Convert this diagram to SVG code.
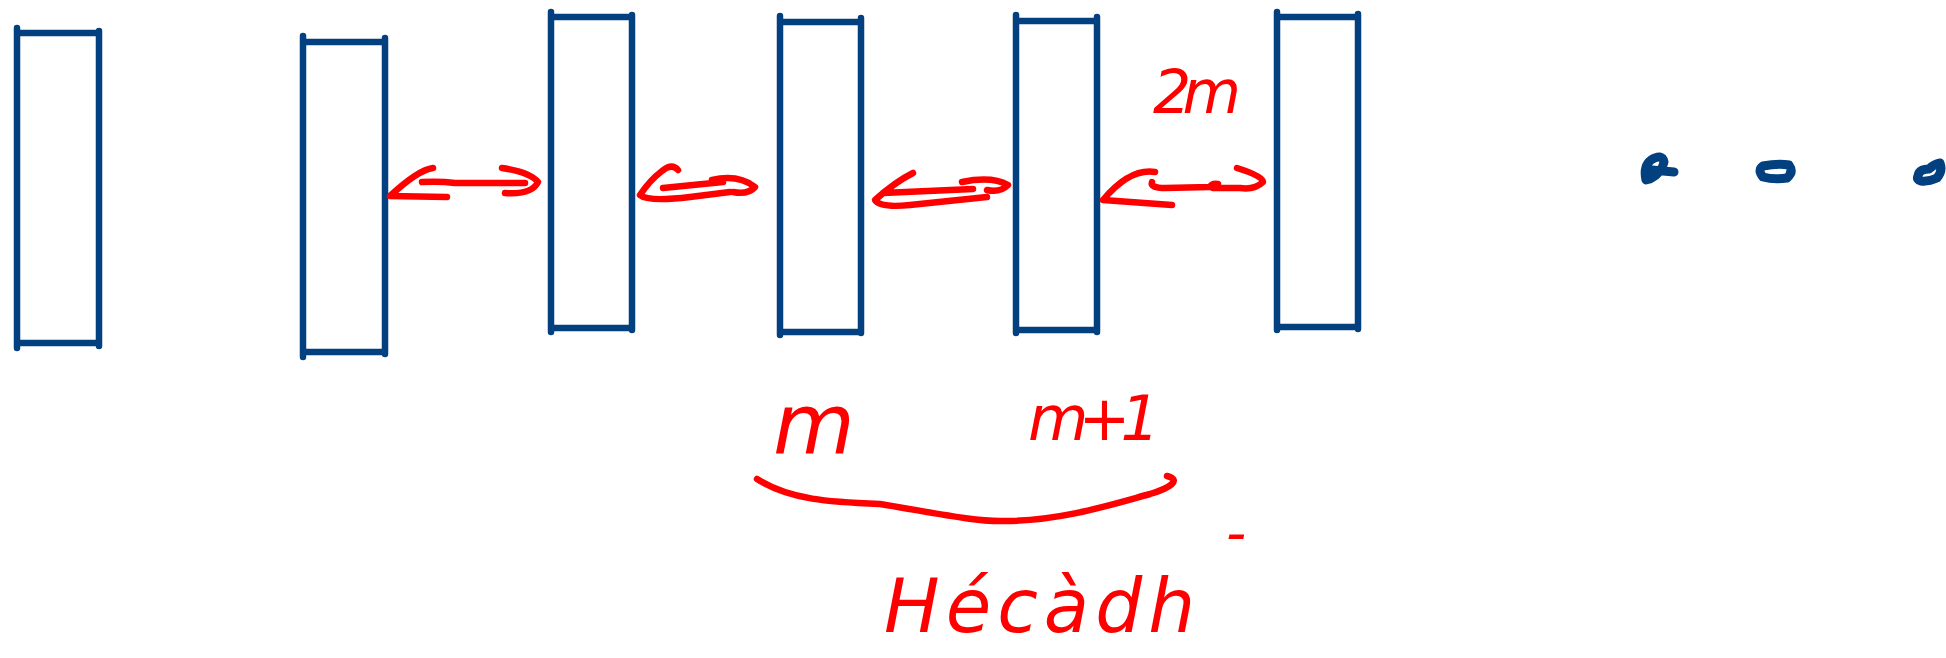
<svg xmlns="http://www.w3.org/2000/svg" width="1946" height="658" viewBox="0 0 1946 658">
<style>
.box{fill:none;stroke:#034080;stroke-width:6.5;stroke-linecap:round;stroke-linejoin:round}
.arr{fill:none;stroke:#ff0000;stroke-width:6.5;stroke-linecap:round;stroke-linejoin:round}
.dot{fill:none;stroke:#034080;stroke-width:9;stroke-linecap:round;stroke-linejoin:round}
.lbl{fill:#ff0000;font-family:"DejaVu Sans","Liberation Sans",sans-serif;font-style:oblique}
</style>
<rect width="1946" height="658" fill="#ffffff"/>
<g id="block1"><path class="box" d="M17,28 L17,348 M17,33 L99,33 M99,31 L99,346 M17,343 L99,343"/></g>
<g id="block2"><path class="box" d="M303,36 L303,357 M303,42 L385,42 M385,38 L385,354 M303,352 L385,352"/></g>
<g id="block3"><path class="box" d="M551,12 L551,332 M551,17 L632,17 M632,15 L632,330 M551,328 L632,328"/></g>
<g id="block4"><path class="box" d="M780,16 L780,335 M780,22 L861,22 M861,18 L861,333 M780,332 L861,332"/></g>
<g id="block5"><path class="box" d="M1016,15 L1016,333 M1016,21 L1097,21 M1097,17 L1097,332 M1016,330 L1097,330"/></g>
<g id="block6"><path class="box" d="M1277,12 L1277,330 M1277,17 L1358,17 M1358,14 L1358,329 M1277,327 L1358,327"/></g>
<g id="ellipsis">
<path class="dot" d="M1646,180 Q1643,166 1651,160 Q1662,153 1664,162 Q1662,173 1650,179 Z M1652,170 L1674,172"/>
<path class="dot" d="M1763,166 Q1778,163 1789,165 Q1794,172 1787,178 Q1774,180 1763,177 Q1757,170 1763,166 Z"/>
<path class="dot" d="M1918,176 Q1919,169 1929,169 Q1934,164 1940,163 Q1943,171 1937,178 Q1928,182 1921,181 Q1916,180 1918,176 Z"/>
</g>
<g id="connectors">
<path class="arr" d="M433,168 Q418,170 390,196 L447,197 M422,182 Q440,181 455,183 L525,183 M502,168 Q530,172 538,182 Q532,195 505,193"/>
<path class="arr" d="M678,170 Q672,163 662,171 Q650,180 640,195 Q648,202 690,197 L730,192 M663,188 L723,182 M712,180 Q738,174 755,187 Q748,195 733,192"/>
<path class="arr" d="M913,173 Q895,182 875,200 Q880,208 910,205 L987,197 M883,193 L973,189 M962,182 Q992,176 1008,185 Q1000,193 987,190"/>
<path class="arr" d="M1155,172 Q1130,168 1103,200 L1172,205 M1152,182 Q1150,188 1165,188 L1210,187 Q1212,183 1218,184 M1237,168 Q1263,176 1263,182 Q1255,190 1240,188 L1213,188"/>
<path class="arr" d="M757,479 C790,500 830,502 880,504 C930,512 975,522 1004,521 C1060,521 1110,505 1150,494 C1170,488 1182,480 1167,476"/>
</g>
<g id="labels">
<text class="lbl" x="1153" y="113" font-size="60" textLength="88">2m</text>
<text class="lbl" x="773" y="453" font-size="84">m</text>
<text class="lbl" x="1028" y="440" font-size="62" textLength="132">m+1</text>
<text class="lbl" x="884" y="632" font-size="74" letter-spacing="6">Hécàdh<tspan x="1226" y="552" font-size="56">-</tspan></text>
</g>
</svg>
